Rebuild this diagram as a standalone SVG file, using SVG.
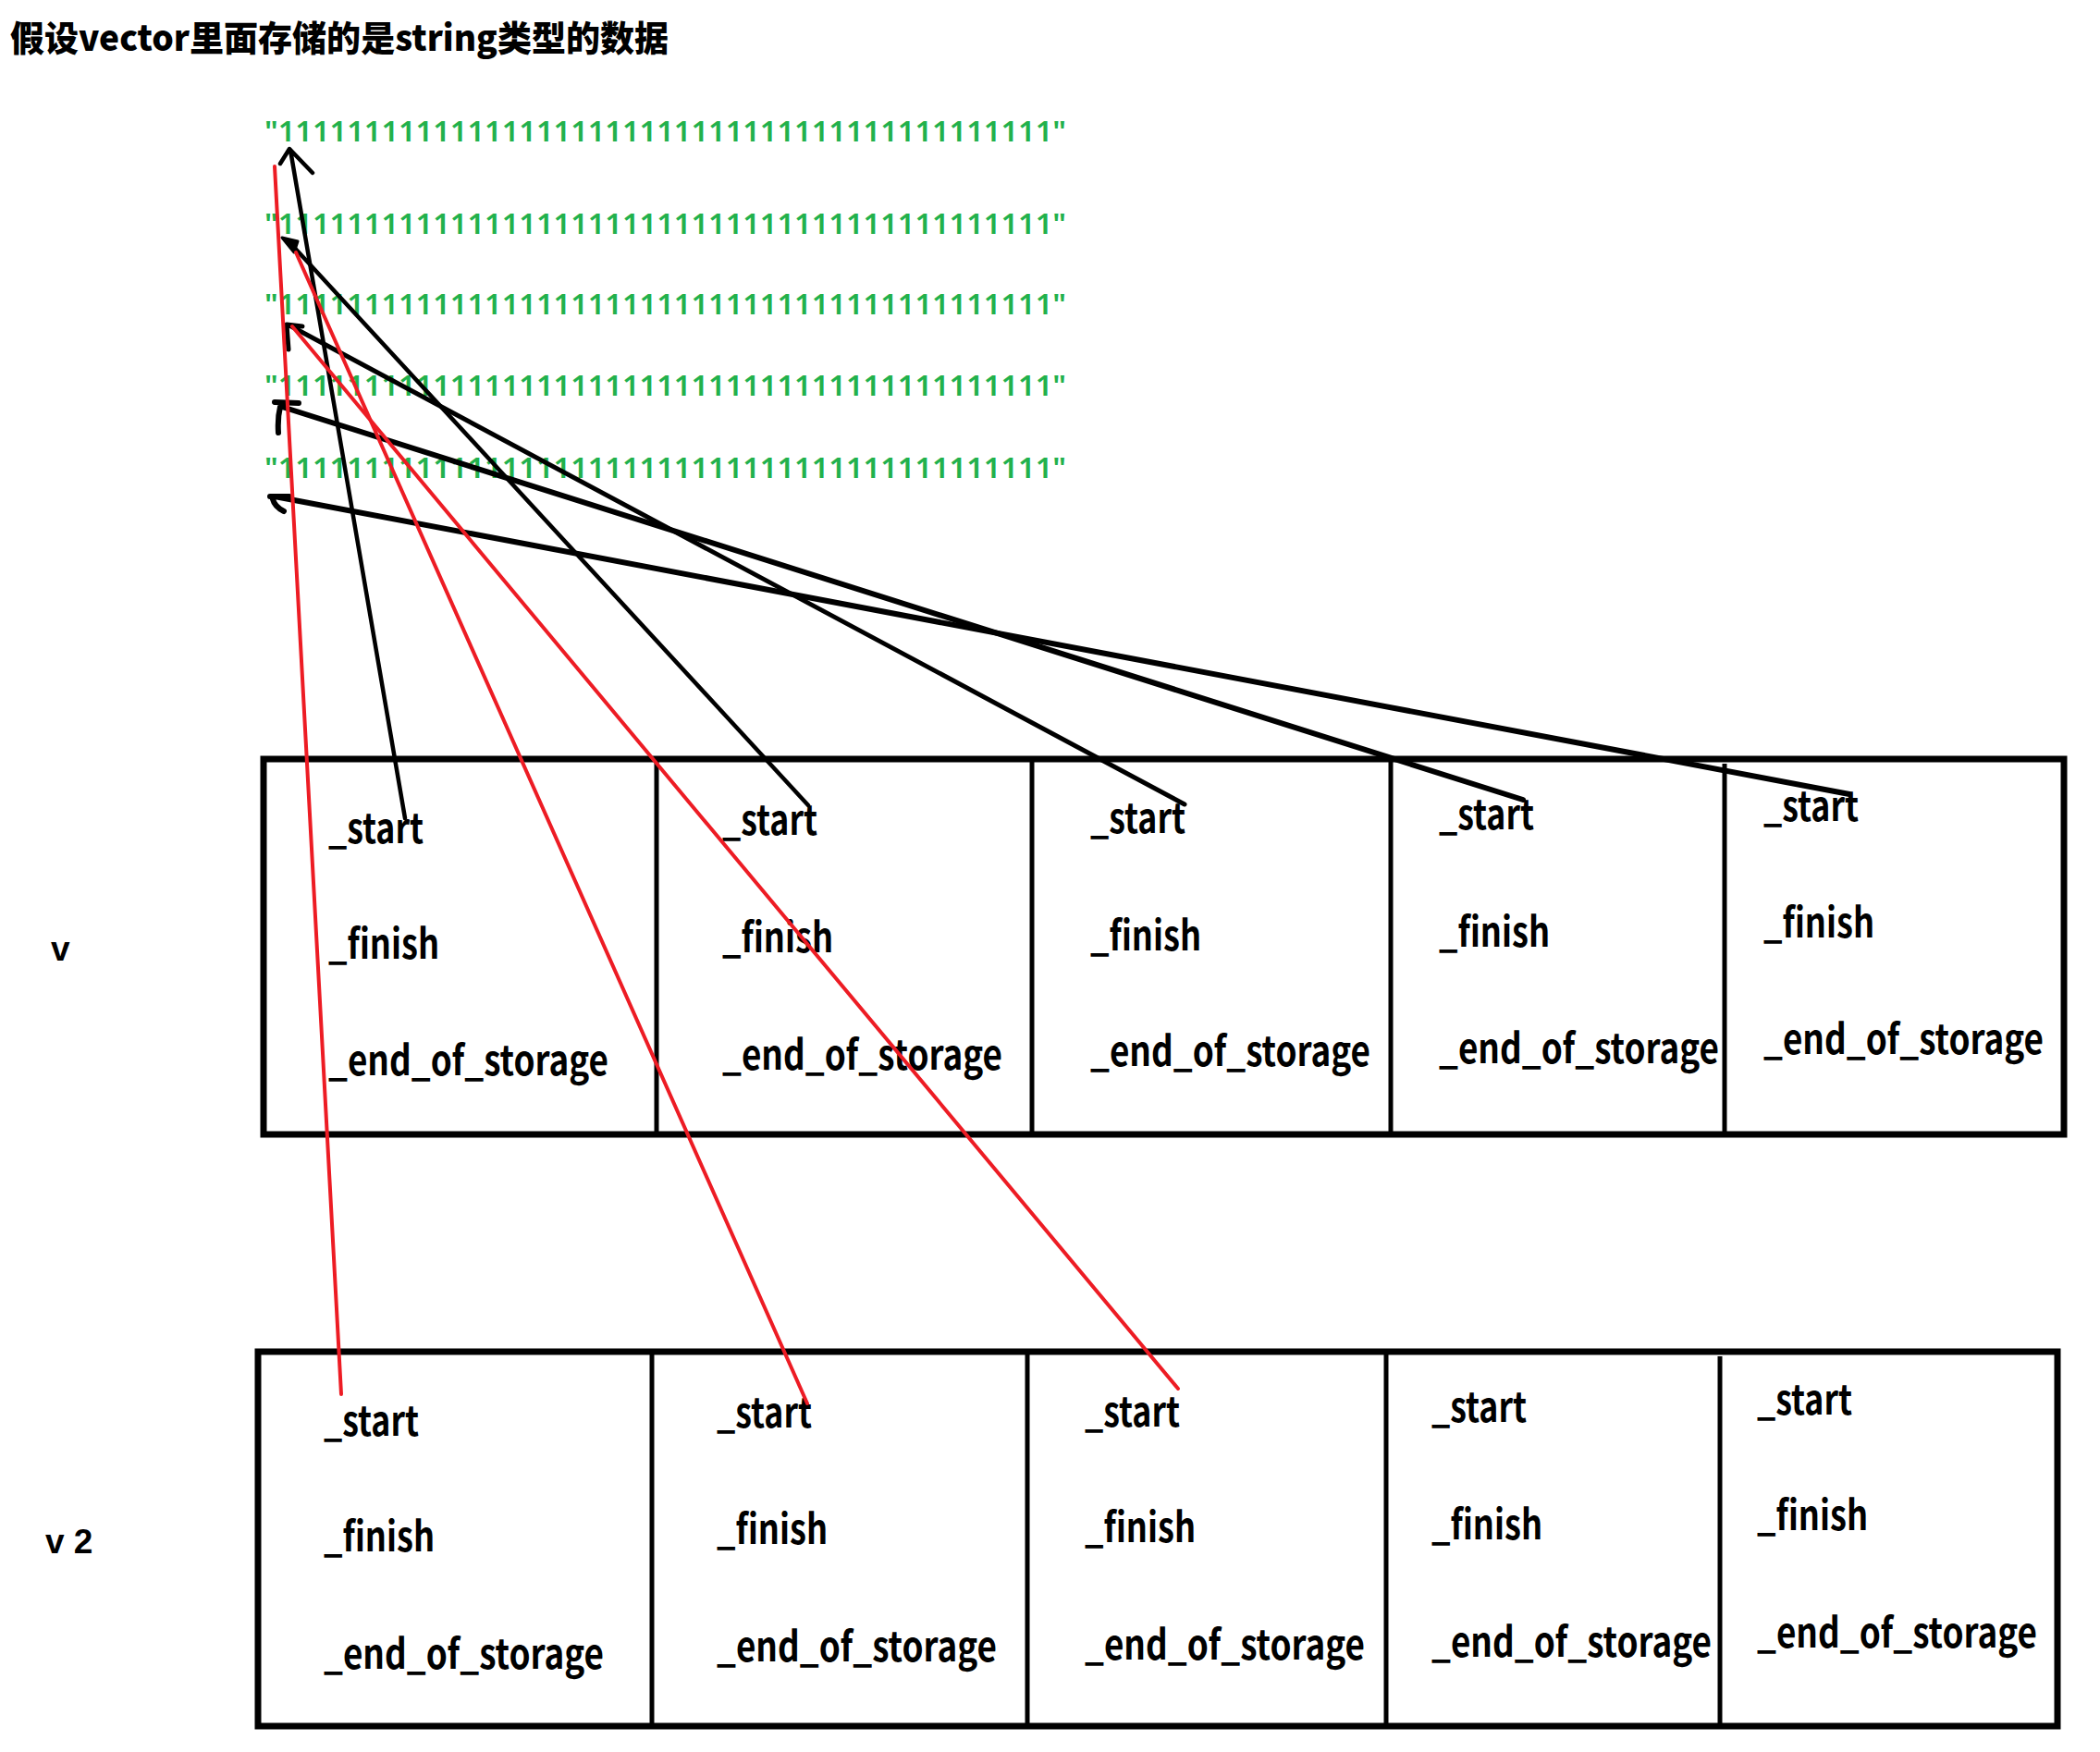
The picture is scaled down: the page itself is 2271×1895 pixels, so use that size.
<svg xmlns="http://www.w3.org/2000/svg" width="2271" height="1895" viewBox="0 0 2271 1895">
<style>
.title{font-family:"Noto Sans CJK SC","Noto Sans",sans-serif;font-weight:900;font-size:38px;fill:#000}
.str{font-family:"Noto Sans","Noto Sans CJK SC",sans-serif;font-weight:600;font-size:30px;fill:#22b14c}
.fld{font-family:"Noto Sans CJK SC","Noto Sans",sans-serif;font-weight:bold;font-size:44px;fill:#000}
.vl{font-family:"Liberation Sans",Arial,sans-serif;font-weight:bold;font-size:37px;fill:#000}
.outer{fill:none;stroke:#000;stroke-width:7}
.div{stroke:#000;stroke-width:5}
.blk{fill:none;stroke:#000;stroke-linecap:round;stroke-linejoin:round}
.red{fill:none;stroke:#ed1c24;stroke-width:4;stroke-linecap:round}
</style>
<rect width="2271" height="1895" fill="#fff"/>
<text class="title" x="11" y="55" textLength="712" lengthAdjust="spacingAndGlyphs">假设vector里面存储的是string类型的数据</text>
<g id="strings">
<text class="str" x="286" y="153" textLength="867" lengthAdjust="spacingAndGlyphs">"111111111111111111111111111111111111111111111"</text>
<text class="str" x="286" y="253" textLength="867" lengthAdjust="spacingAndGlyphs">"111111111111111111111111111111111111111111111"</text>
<text class="str" x="286" y="340" textLength="867" lengthAdjust="spacingAndGlyphs">"111111111111111111111111111111111111111111111"</text>
<text class="str" x="286" y="428" textLength="867" lengthAdjust="spacingAndGlyphs">"111111111111111111111111111111111111111111111"</text>
<text class="str" x="286" y="517" textLength="867" lengthAdjust="spacingAndGlyphs">"111111111111111111111111111111111111111111111"</text>
</g>
<text class="vl" x="55" y="1039">v</text>
<text class="vl" x="49" y="1680">v 2</text>
<g id="vec-v">
<rect class="outer" x="285" y="821" width="1947" height="406"/>
<line class="div" x1="710" y1="821" x2="710" y2="1227"/>
<line class="div" x1="1116" y1="821" x2="1116" y2="1227"/>
<line class="div" x1="1504" y1="821" x2="1504" y2="1227"/>
<line class="div" x1="1865" y1="826" x2="1865" y2="1227"/>
<g id="v-0"><text class="fld" x="355" y="912" textLength="103" lengthAdjust="spacingAndGlyphs">_start</text><text class="fld" x="355" y="1037" textLength="120" lengthAdjust="spacingAndGlyphs">_finish</text><text class="fld" x="355" y="1163" textLength="303" lengthAdjust="spacingAndGlyphs">_end_of_storage</text></g>
<g id="v-1"><text class="fld" x="781" y="903" textLength="103" lengthAdjust="spacingAndGlyphs">_start</text><text class="fld" x="781" y="1030" textLength="120" lengthAdjust="spacingAndGlyphs">_finish</text><text class="fld" x="781" y="1157" textLength="303" lengthAdjust="spacingAndGlyphs">_end_of_storage</text></g>
<g id="v-2"><text class="fld" x="1179" y="901" textLength="103" lengthAdjust="spacingAndGlyphs">_start</text><text class="fld" x="1179" y="1028" textLength="120" lengthAdjust="spacingAndGlyphs">_finish</text><text class="fld" x="1179" y="1153" textLength="303" lengthAdjust="spacingAndGlyphs">_end_of_storage</text></g>
<g id="v-3"><text class="fld" x="1556" y="897" textLength="103" lengthAdjust="spacingAndGlyphs">_start</text><text class="fld" x="1556" y="1024" textLength="120" lengthAdjust="spacingAndGlyphs">_finish</text><text class="fld" x="1556" y="1150" textLength="303" lengthAdjust="spacingAndGlyphs">_end_of_storage</text></g>
<g id="v-4"><text class="fld" x="1907" y="888" textLength="103" lengthAdjust="spacingAndGlyphs">_start</text><text class="fld" x="1907" y="1014" textLength="120" lengthAdjust="spacingAndGlyphs">_finish</text><text class="fld" x="1907" y="1140" textLength="303" lengthAdjust="spacingAndGlyphs">_end_of_storage</text></g>
</g>
<g id="vec-v2">
<rect class="outer" x="279" y="1462" width="1946" height="405"/>
<line class="div" x1="705" y1="1462" x2="705" y2="1867"/>
<line class="div" x1="1111" y1="1462" x2="1111" y2="1867"/>
<line class="div" x1="1499" y1="1462" x2="1499" y2="1867"/>
<line class="div" x1="1860" y1="1467" x2="1860" y2="1867"/>
<g id="v2-0"><text class="fld" x="350" y="1553" textLength="103" lengthAdjust="spacingAndGlyphs">_start</text><text class="fld" x="350" y="1678" textLength="120" lengthAdjust="spacingAndGlyphs">_finish</text><text class="fld" x="350" y="1805" textLength="303" lengthAdjust="spacingAndGlyphs">_end_of_storage</text></g>
<g id="v2-1"><text class="fld" x="775" y="1544" textLength="103" lengthAdjust="spacingAndGlyphs">_start</text><text class="fld" x="775" y="1670" textLength="120" lengthAdjust="spacingAndGlyphs">_finish</text><text class="fld" x="775" y="1797" textLength="303" lengthAdjust="spacingAndGlyphs">_end_of_storage</text></g>
<g id="v2-2"><text class="fld" x="1173" y="1543" textLength="103" lengthAdjust="spacingAndGlyphs">_start</text><text class="fld" x="1173" y="1668" textLength="120" lengthAdjust="spacingAndGlyphs">_finish</text><text class="fld" x="1173" y="1795" textLength="303" lengthAdjust="spacingAndGlyphs">_end_of_storage</text></g>
<g id="v2-3"><text class="fld" x="1548" y="1538" textLength="103" lengthAdjust="spacingAndGlyphs">_start</text><text class="fld" x="1548" y="1665" textLength="120" lengthAdjust="spacingAndGlyphs">_finish</text><text class="fld" x="1548" y="1792" textLength="303" lengthAdjust="spacingAndGlyphs">_end_of_storage</text></g>
<g id="v2-4"><text class="fld" x="1900" y="1530" textLength="103" lengthAdjust="spacingAndGlyphs">_start</text><text class="fld" x="1900" y="1655" textLength="120" lengthAdjust="spacingAndGlyphs">_finish</text><text class="fld" x="1900" y="1782" textLength="303" lengthAdjust="spacingAndGlyphs">_end_of_storage</text></g>
</g>
<g id="connectors">
<path class="blk" stroke-width="4.5" d="M438,885 L314,162 M303,177 L313,161 L338,187"/>
<path class="blk" stroke-width="4.5" d="M874,871 L313,262"/>
<path d="M305,257 L322,261 L318,273 Z" fill="#000" stroke="#000" stroke-width="3" stroke-linejoin="round"/>
<path class="blk" stroke-width="5" d="M1281,870 L313,352 M327,353 L310,351 L312,378"/>
<path class="blk" stroke-width="6" d="M1647,865 L305,440 M297,435 L323,436 M303,440 Q300,452 301,468"/>
<path class="blk" stroke-width="6" d="M2000,859 L297,537 M292,537 L313,537 M295,540 Q297,548 307,553"/>
<path class="red" d="M369,1508 L297,180"/>
<path class="red" d="M873,1518 L320,273"/>
<path class="red" d="M1274,1502 L316,353"/>
</g>
</svg>
